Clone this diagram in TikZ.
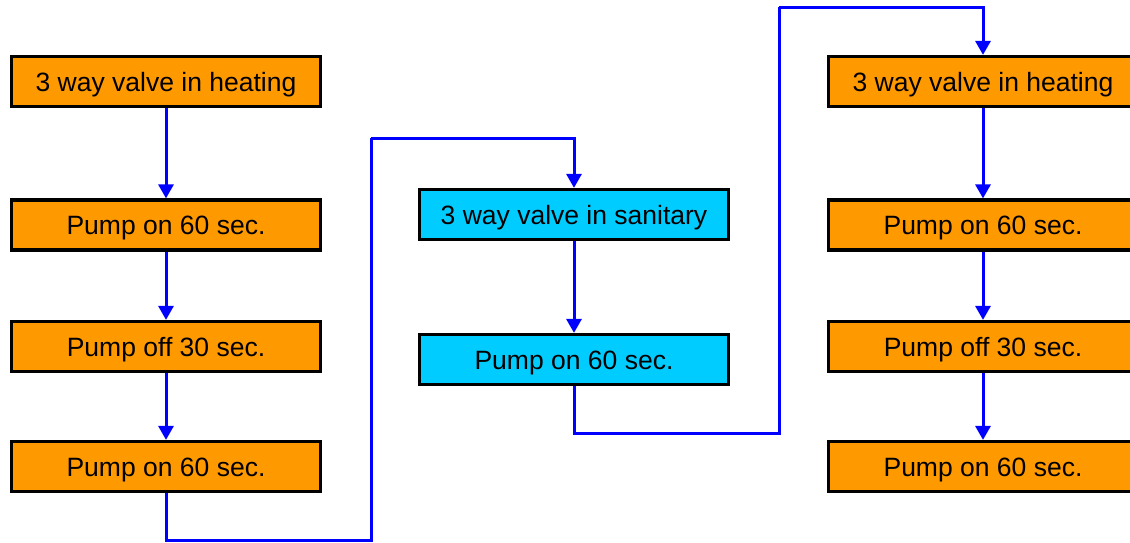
\documentclass[tikz,border=0pt]{standalone}
\usepackage{fontspec}
\setmainfont{Liberation Sans}
\usetikzlibrary{positioning,calc}
\usetikzlibrary{arrows.meta}
\definecolor{HeatOrange}{RGB}{255,153,0}
\definecolor{SaniCyan}{RGB}{0,204,255}
\definecolor{FlowBlue}{RGB}{0,0,255}
\tikzset{
  stepbox/.style={draw=black,line width=3.2pt,minimum width=309pt,minimum height=50pt,
    inner sep=0pt,text height=19pt,text depth=0pt,font=\fontsize{26.5}{30}\selectfont},
  heat/.style={stepbox,fill=HeatOrange},
  sani/.style={stepbox,fill=SaniCyan},
  flow/.style={draw=FlowBlue,line width=3pt,-{Triangle[width=15pt,length=14pt]}},
  wire/.style={draw=FlowBlue,line width=3pt},
}

\begin{document}
\begin{tikzpicture}[x=1pt,y=-1pt]
  \useasboundingbox (0,0) rectangle (1130,542);
  \clip (0,0) rectangle (1130,542);
  % heating columns
  \foreach \c/\x in {l/166,r/983}{
    \node[heat] (\c1) at (\x,81.5) {3 way valve in heating};
    \node[heat] (\c2) at (\x,225) {Pump on 60 sec.};
    \node[heat] (\c3) at (\x,346.5) {Pump off 30 sec.};
    \node[heat] (\c4) at (\x,466.5) {Pump on 60 sec.};
  }
  % sanitary column
  \node[sani] (m1) at (574,214.5) {3 way valve in sanitary};
  \node[sani] (m2) at (574,359.5) {Pump on 60 sec.};
  \foreach \i/\j in {l1/l2,l2/l3,l3/l4,m1/m2,r1/r2,r2/r3,r3/r4}
    \draw[flow] (\i)--(\j);
  \coordinate (lowL) at (371,540);
  \coordinate (topM) at (371,138);
  \coordinate (lowM) at (779,433);
  \coordinate (topR) at (779,7);
  \draw[wire] (l4.south) |- (lowL) -- (topM);
  \draw[flow] (topM) -| (m1.north);
  \draw[wire] (m2.south) |- (lowM) -- (topR);
  \draw[flow] (topR) -| (r1.north);
\end{tikzpicture}
\end{document}
